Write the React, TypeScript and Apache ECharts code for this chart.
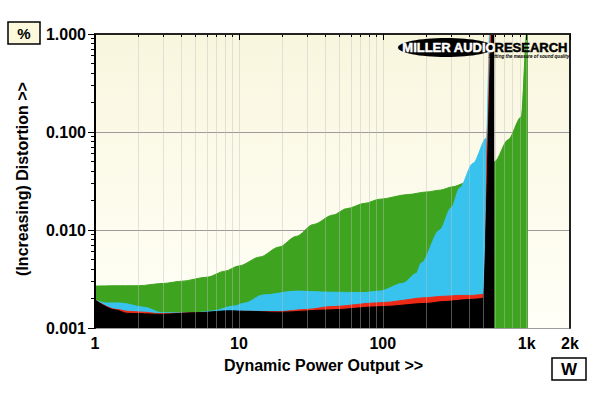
import React, { useEffect, useRef } from "react";
import * as echarts from "echarts";

// Watts / percent distortion
const greenW = [1, 1.5, 2, 3, 4, 6, 8, 10, 14, 19, 25, 33, 45, 56, 75, 95, 150, 200, 250, 306, 371, 450, 530, 600, 741, 918, 1000, 1020];
const greenP = [0.00268, 0.0027, 0.0027, 0.00285, 0.003, 0.0033, 0.0038, 0.0043, 0.0053, 0.0067, 0.0086, 0.0114, 0.0142, 0.0165, 0.0187, 0.0206, 0.023, 0.0244, 0.0255, 0.0276, 0.030, 0.036, 0.042, 0.05, 0.083, 0.143, 1, 1];

const cyanW = [1, 1.2, 1.5, 2.2, 2.9, 5, 6.5, 9.3, 11, 14.7, 25, 43, 73, 95, 138, 171, 185, 249, 300, 343, 424, 526, 553, 560];
const cyanP = [0.00193, 0.0018, 0.0018, 0.00163, 0.00143, 0.00143, 0.00149, 0.00168, 0.0018, 0.00217, 0.00238, 0.00232, 0.0023, 0.00238, 0.00286, 0.0036, 0.0046, 0.01, 0.017, 0.027, 0.048, 0.087, 1, 1];

const redW = [1, 1.4, 1.7, 2.2, 2.8, 5, 11, 19, 30, 43, 95, 211, 250, 350, 420, 495, 511, 533, 562, 575];
const redP = [0.00193, 0.00155, 0.00148, 0.00145, 0.0014, 0.00143, 0.00148, 0.00147, 0.00155, 0.00165, 0.00181, 0.00205, 0.0021, 0.00215, 0.00215, 0.0022, 0.0023, 0.083, 1, 1];

const blackW = [1, 1.38, 1.69, 2.9, 4.95, 8.7, 11, 19.3, 42.8, 95.5, 211, 249, 420, 497, 576, 595];
const blackP = [0.00193, 0.00153, 0.00141, 0.00138, 0.00143, 0.0015, 0.00148, 0.00145, 0.00153, 0.00165, 0.00179, 0.00185, 0.00196, 0.002, 1, 1];

const xLabelValues = [1, 10, 100, 1000, 2000];
const xMinorValues = [2, 3, 4, 5, 6, 7, 8, 9, 10, 20, 30, 40, 50, 60, 70, 80, 90, 100, 200, 300, 400, 500, 600, 700, 800, 900, 1000];
const yLabelValues = [0.001, 0.01, 0.1, 1];
const yMinorValues = [0.002, 0.003, 0.004, 0.005, 0.006, 0.007, 0.008, 0.009, 0.02, 0.03, 0.04, 0.05, 0.06, 0.07, 0.08, 0.09, 0.2, 0.3, 0.4, 0.5, 0.6, 0.7, 0.8, 0.9];

const xMaxW = 2000;

const L = Math.log10;
const pts = (w: number[], p: number[]) => w.map((x, i) => [L(x), L(p[i])]);

const FONT = "Liberation Sans, Arial, sans-serif";

export default function App() {
  const ref = useRef<HTMLDivElement>(null);
  useEffect(() => {
    const chart = echarts.init(ref.current!, null, { renderer: "svg" });
    const xMin = L(xLabelValues[0]);
    const xMax = L(xMaxW);
    const yMin = L(yLabelValues[0]);
    const yMax = L(yLabelValues[yLabelValues.length - 1]);

    const mkSeries = (name: string, w: number[], p: number[], color: string, z: number) => ({
      type: "line",
      name,
      z,
      data: pts(w, p),
      showSymbol: false,
      smooth: 0.3,
      smoothMonotone: "x",
      lineStyle: { width: 1, color },
      itemStyle: { color },
      areaStyle: { color, opacity: 1, origin: "start" },
      xAxisIndex: 0,
      yAxisIndex: 0,
    });

    const hidden = { axisLine: { show: false }, axisTick: { show: false }, axisLabel: { show: false }, splitLine: { show: false } };

    chart.setOption({
      animation: false,
      backgroundColor: "#ffffff",
      textStyle: { fontFamily: FONT },
      grid: {
        left: 95,
        right: 30,
        top: 34,
        bottom: 65,
        show: true,
        borderWidth: 0,
        backgroundColor: new echarts.graphic.LinearGradient(0, 0, 0, 1, [
          { offset: 0, color: "#f9f6de" },
          { offset: 1, color: "#fffff7" },
        ]),
      },
      xAxis: [
        {
          type: "value",
          position: "bottom",
          min: xMin,
          max: xMax,
          z: 8,
          axisLine: { show: true, lineStyle: { color: "#000", width: 2 } },
          axisTick: { show: true, length: 6, lineStyle: { color: "#000" }, customValues: xLabelValues.map(L) },
          axisLabel: {
            show: true,
            customValues: xLabelValues.map(L),
            margin: 7,
            color: "#000",
            fontWeight: "bold",
            fontSize: 16,
            fontFamily: FONT,
            formatter: (v: number) => {
              const w = Math.round(Math.pow(10, v));
              return w >= 1000 ? w / 1000 + "k" : String(w);
            },
          },
          splitLine: { show: false },
          name: "Dynamic Power Output >>",
          nameLocation: "middle",
          nameGap: 29,
          nameTextStyle: { color: "#000", fontWeight: "bold", fontSize: 16, fontFamily: FONT, padding: [0, 18, 0, 0] },
        },
        {
          type: "value",
          position: "bottom",
          min: xMin,
          max: xMax,
          z: 7,
          axisLine: { show: false },
          axisTick: { show: true, length: 3, lineStyle: { color: "#000" }, customValues: xMinorValues.map(L) },
          axisLabel: { show: false },
          splitLine: { show: true, lineStyle: { color: "rgba(190,190,190,0.42)", width: 1 } },
        },
        {
          type: "value",
          position: "top",
          min: xMin,
          max: xMax,
          z: 8,
          ...hidden,
          axisLine: { show: true, lineStyle: { color: "#222", width: 2 } },
        },
      ],
      yAxis: [
        {
          type: "value",
          position: "left",
          min: yMin,
          max: yMax,
          interval: 1,
          z: 8,
          axisLine: { show: true, lineStyle: { color: "#000", width: 2 } },
          axisTick: { show: true, length: 7, lineStyle: { color: "#000" } },
          axisLabel: {
            show: true,
            margin: 9,
            color: "#000",
            fontWeight: "bold",
            fontSize: 16,
            fontFamily: FONT,
            formatter: (v: number) => Math.pow(10, v).toFixed(3),
          },
          splitLine: { show: false },
          name: "(Increasing) Distortion >>",
          nameLocation: "middle",
          nameGap: 65,
          nameTextStyle: { color: "#000", fontWeight: "bold", fontSize: 16, fontFamily: FONT, padding: [0, 0, 0, 4] },
        },
        {
          type: "value",
          position: "left",
          min: yMin,
          max: yMax,
          z: 8,
          axisLine: { show: false },
          axisTick: { show: true, length: 4, lineStyle: { color: "#000" }, customValues: yMinorValues.map(L) },
          axisLabel: { show: false },
          splitLine: { show: false },
        },
        {
          type: "value",
          position: "left",
          min: yMin,
          max: yMax,
          interval: 1,
          z: 1,
          ...hidden,
          splitLine: { show: true, lineStyle: { color: "#9c9c9c", width: 1 } },
        },
        {
          type: "value",
          position: "right",
          min: yMin,
          max: yMax,
          z: 8,
          ...hidden,
          axisLine: { show: true, lineStyle: { color: "#222", width: 2 } },
        },
      ],
      series: [
        mkSeries("green", greenW, greenP, "#3ea31f", 2),
        mkSeries("cyan", cyanW, cyanP, "#38c3ef", 3),
        mkSeries("red", redW, redP, "#ee2a16", 4),
        mkSeries("black", blackW, blackP, "#000000", 5),
      ],
      graphic: [
        {
          type: "rect",
          shape: { x: 8, y: 22, width: 32, height: 22 },
          style: { fill: "#fbf8dc", stroke: "#000", lineWidth: 1.5 },
          z: 10,
        },
        {
          type: "text",
          x: 24,
          y: 33.5,
          style: { text: "%", fill: "#000", fontSize: 15, fontWeight: "bold", fontFamily: FONT, align: "center", verticalAlign: "middle" },
          z: 11,
        },
        {
          type: "rect",
          shape: { x: 552, y: 358, width: 34, height: 22 },
          style: { fill: "#fff", stroke: "#000", lineWidth: 1.5 },
          z: 10,
        },
        {
          type: "text",
          x: 569,
          y: 369.5,
          style: { text: "W", fill: "#000", fontSize: 17, fontWeight: "bold", fontFamily: FONT, align: "center", verticalAlign: "middle" },
          z: 11,
        },
        {
          type: "ellipse",
          shape: { cx: 446, cy: 47.5, rx: 48, ry: 9.5 },
          style: { fill: "#000" },
          z: 10,
        },
        {
          type: "text",
          x: 449,
          y: 47.5,
          style: { text: "MILLER AUDIO", fill: "#fff", stroke: "#fff", lineWidth: 0.5, fontSize: 13, fontWeight: "bold", fontFamily: FONT, align: "center", verticalAlign: "middle" },
          z: 11,
        },
        {
          type: "text",
          x: 531,
          y: 47.5,
          style: { text: "RESEARCH", fill: "#000", stroke: "#000", lineWidth: 0.5, fontSize: 13, fontWeight: "bold", fontFamily: FONT, align: "center", verticalAlign: "middle" },
          z: 11,
        },
        {
          type: "text",
          x: 529,
          y: 56.5,
          style: { text: "Setting the measure of sound quality", fill: "#000", fontSize: 4.6, fontWeight: "bold", fontStyle: "italic", fontFamily: FONT, align: "center", verticalAlign: "middle" },
          z: 11,
        },
      ],
    });
    return () => chart.dispose();
  }, []);
  return <div ref={ref} style={{ position: "absolute", left: 0, top: 0, width: 600, height: 393 }} />;
}
